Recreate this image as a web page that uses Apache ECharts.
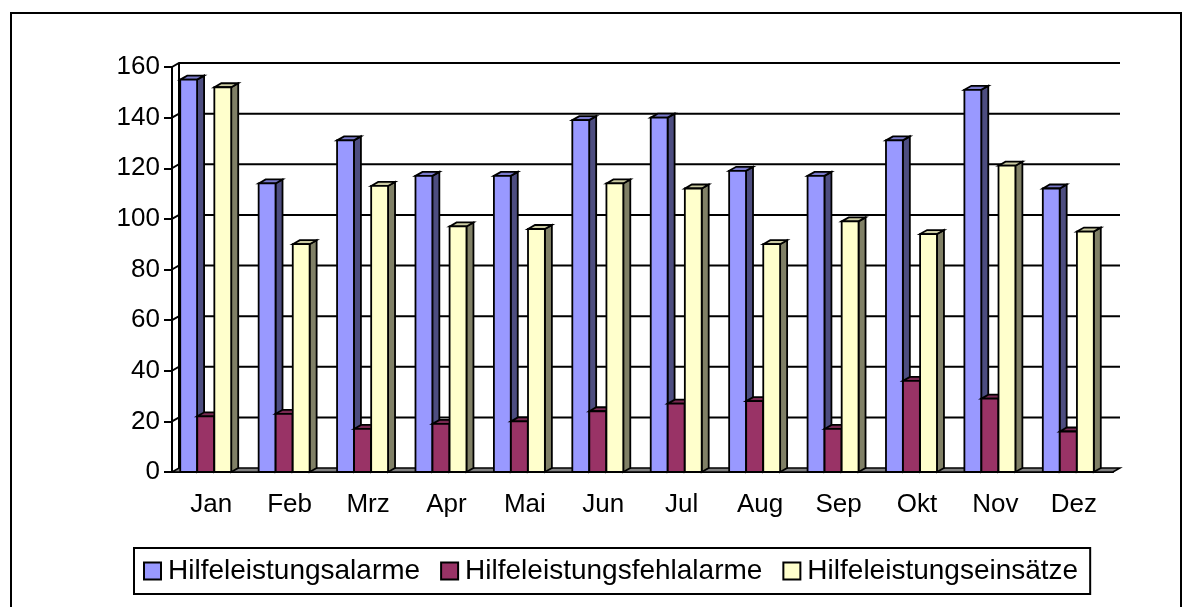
<!DOCTYPE html>
<html lang="de">
<head>
<meta charset="utf-8">
<title>Hilfeleistungen</title>
<script src="https://cdn.jsdelivr.net/npm/echarts@6/dist/echarts.min.js"></script>
<style>
  html, body { margin: 0; padding: 0; background: #fff; }
</style>
</head>
<body>
<div id="main" style="width:1200px;height:607px"></div>
<script type="text/javascript">
    // Daten
    var months = ['Jan', 'Feb', 'Mrz', 'Apr', 'Mai', 'Jun', 'Jul', 'Aug', 'Sep', 'Okt', 'Nov', 'Dez'];
    var alarme = [155, 114, 131, 117, 117, 139, 140, 119, 117, 131, 151, 112];
    var fehlalarme = [22, 23, 17, 19, 20, 24, 27, 28, 17, 36, 29, 16];
    var einsaetze = [152, 90, 113, 97, 96, 114, 112, 90, 99, 94, 121, 95];
    var yTicks = [0, 20, 40, 60, 80, 100, 120, 140, 160];

    var DX = 7, DY = 4; // Tiefe der 3D-Saeulen

    var myChart = echarts.init(document.getElementById('main'));

    // Rueckwand, Gitterlinien und Boden
    function renderWall(params, api) {
        var cs = params.coordSys;
        var left = cs.x, right = cs.x + cs.width;
        var children = [];
        var yTop = api.coord([0, yTicks[yTicks.length - 1]])[1];
        var yBot = api.coord([0, 0])[1];
        for (var i = 1; i < yTicks.length; i++) {
            var y = api.coord([0, yTicks[i]])[1];
            children.push({
                type: 'polyline',
                shape: {points: [[left, y], [left + DX, y - DY], [right + DX, y - DY]]},
                style: {stroke: '#000', lineWidth: 2, fill: null}
            });
        }
        children.push({
            type: 'line',
            shape: {x1: left + DX, y1: yTop - DY, x2: left + DX, y2: yBot - DY},
            style: {stroke: '#000', lineWidth: 2}
        });
        children.push({
            type: 'polygon',
            shape: {points: [[left, yBot], [left + DX, yBot - DY], [right + DX, yBot - DY], [right, yBot]]},
            style: {fill: '#808080', stroke: '#000', lineWidth: 1.5}
        });
        return {type: 'group', children: children};
    }

    function makeBar(offset, front, side, top) {
        return function (params, api) {
            var idx = api.value(0);
            var p0 = api.coord([idx, 0]);
            var p1 = api.coord([idx, api.value(1)]);
            var catW = api.size([1, 0])[0];
            var w = catW * 0.215;
            var x0 = p0[0] + offset * catW;
            var yb = p0[1], yt = p1[1];
            var st = {stroke: '#000', lineWidth: 1.8};
            return {
                type: 'group',
                children: [{
                    type: 'polygon',
                    shape: {points: [[x0 + w, yt], [x0 + w + DX, yt - DY], [x0 + w + DX, yb - DY], [x0 + w, yb]]},
                    style: Object.assign({fill: side}, st)
                }, {
                    type: 'polygon',
                    shape: {points: [[x0, yt], [x0 + DX, yt - DY], [x0 + w + DX, yt - DY], [x0 + w, yt]]},
                    style: Object.assign({fill: top}, st)
                }, {
                    type: 'rect',
                    shape: {x: x0, y: yt, width: w, height: yb - yt},
                    style: Object.assign({fill: front}, st)
                }]
            };
        };
    }

    function toData(arr) {
        return arr.map(function (v, i) { return [i, v]; });
    }

    option = {
        animation: false,
        textStyle: {fontFamily: 'Liberation Sans, Arial, sans-serif'},
        graphic: [{
            type: 'rect',
            shape: {x: 11, y: 13, width: 1170, height: 620},
            style: {fill: null, stroke: '#000', lineWidth: 2},
            silent: true
        }],
        grid: {left: 172, right: 87, top: 67, bottom: 135},
        legend: {
            data: ['Hilfeleistungsalarme', 'Hilfeleistungsfehlalarme', 'Hilfeleistungseinsätze'],
            left: 134,
            top: 548,
            icon: 'rect',
            itemWidth: 17,
            itemHeight: 17,
            itemGap: 20,
            padding: [9, 12, 9, 9],
            borderColor: '#000',
            borderWidth: 2,
            textStyle: {fontSize: 28, color: '#000', padding: [0, 0, 0, 2]}
        },
        xAxis: {
            type: 'category',
            data: months,
            axisLine: {lineStyle: {color: '#000', width: 2}},
            axisTick: {length: 6, lineStyle: {color: '#000', width: 2}},
            axisLabel: {fontSize: 26, color: '#000', margin: 20}
        },
        yAxis: {
            type: 'value',
            min: 0,
            max: 160,
            interval: 20,
            axisLine: {show: true, lineStyle: {color: '#000', width: 2}},
            axisTick: {show: true, length: 8, lineStyle: {color: '#000', width: 2}},
            axisLabel: {fontSize: 26, color: '#000', margin: 12},
            splitLine: {show: false}
        },
        series: [{
            type: 'custom',
            name: 'wall',
            renderItem: renderWall,
            data: [[0, 0]],
            silent: true,
            z: 1
        }, {
            type: 'custom',
            name: 'Hilfeleistungsalarme',
            renderItem: makeBar(-0.395, '#9999FF', '#4D4D80', '#7A7ACC'),
            itemStyle: {color: '#9999FF', borderColor: '#000', borderWidth: 2},
            encode: {x: 0, y: 1},
            data: toData(alarme),
            z: 2
        }, {
            type: 'custom',
            name: 'Hilfeleistungsfehlalarme',
            renderItem: makeBar(-0.178, '#993366', '#4D1A33', '#7A2952'),
            itemStyle: {color: '#993366', borderColor: '#000', borderWidth: 2},
            encode: {x: 0, y: 1},
            data: toData(fehlalarme),
            z: 3
        }, {
            type: 'custom',
            name: 'Hilfeleistungseinsätze',
            renderItem: makeBar(0.04, '#FFFFCC', '#808066', '#CCCCA3'),
            itemStyle: {color: '#FFFFCC', borderColor: '#000', borderWidth: 2},
            encode: {x: 0, y: 1},
            data: toData(einsaetze),
            z: 4
        }]
    };
    myChart.setOption(option);
</script>
</body>
</html>
